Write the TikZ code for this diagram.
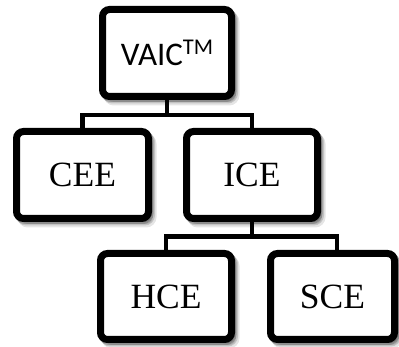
\documentclass[tikz,border=0pt]{standalone}
\usepackage{fontspec}
\setmainfont{Liberation Serif}
\newfontfamily\calib{Carlito}
\usetikzlibrary{shadows}
\tikzset{
  box/.style={draw=black, line width=7pt, rounded corners=7pt, fill=white,
    inner sep=0pt, outer sep=0pt,
    drop shadow={shadow xshift=4.5pt, shadow yshift=-5.5pt, opacity=0.1, fill=black, draw=black, line width=7pt},
    drop shadow={shadow xshift=3pt, shadow yshift=-3.5pt, opacity=0.15, fill=black, draw=black, line width=7pt},
    drop shadow={shadow xshift=1.5pt, shadow yshift=-2pt, opacity=0.2, fill=black, draw=black, line width=7pt}},
  serifbox/.style={box, font=\fontsize{35.5}{37}\selectfont},
  conn/.style={draw=black, line width=4.8pt}
}
\begin{document}
\begin{tikzpicture}[x=1pt, y=-1pt]
\useasboundingbox (0,0) rectangle (399,347);
\node[box, minimum width=129pt, minimum height=87pt, font=\calib\fontsize{33}{35}\selectfont] (vaic) at (167,53)
  {VAIC\raisebox{10.5pt}{\fontsize{22.5}{23}\selectfont TM}};
\node[serifbox, minimum width=132pt, minimum height=87pt] (cee) at (82.5,175) {CEE};
\node[serifbox, minimum width=131pt, minimum height=87pt] (ice) at (252,175) {ICE};
\node[serifbox, minimum width=131pt, minimum height=86pt] (hce) at (166,296.5) {HCE};
\node[serifbox, minimum width=124pt, minimum height=86pt] (sce) at (332.5,296.5) {SCE};
\coordinate (j1) at (167,115);
\coordinate (j2) at (252,236.5);
\draw[conn] (vaic.south) -- (j1);
\draw[conn] (cee.north) |- (j1) -| (ice.north);
\draw[conn] (ice.south) -- (j2);
\draw[conn] (hce.north) |- (j2) -| ([xshift=4.5pt]sce.north);
\end{tikzpicture}
\end{document}
